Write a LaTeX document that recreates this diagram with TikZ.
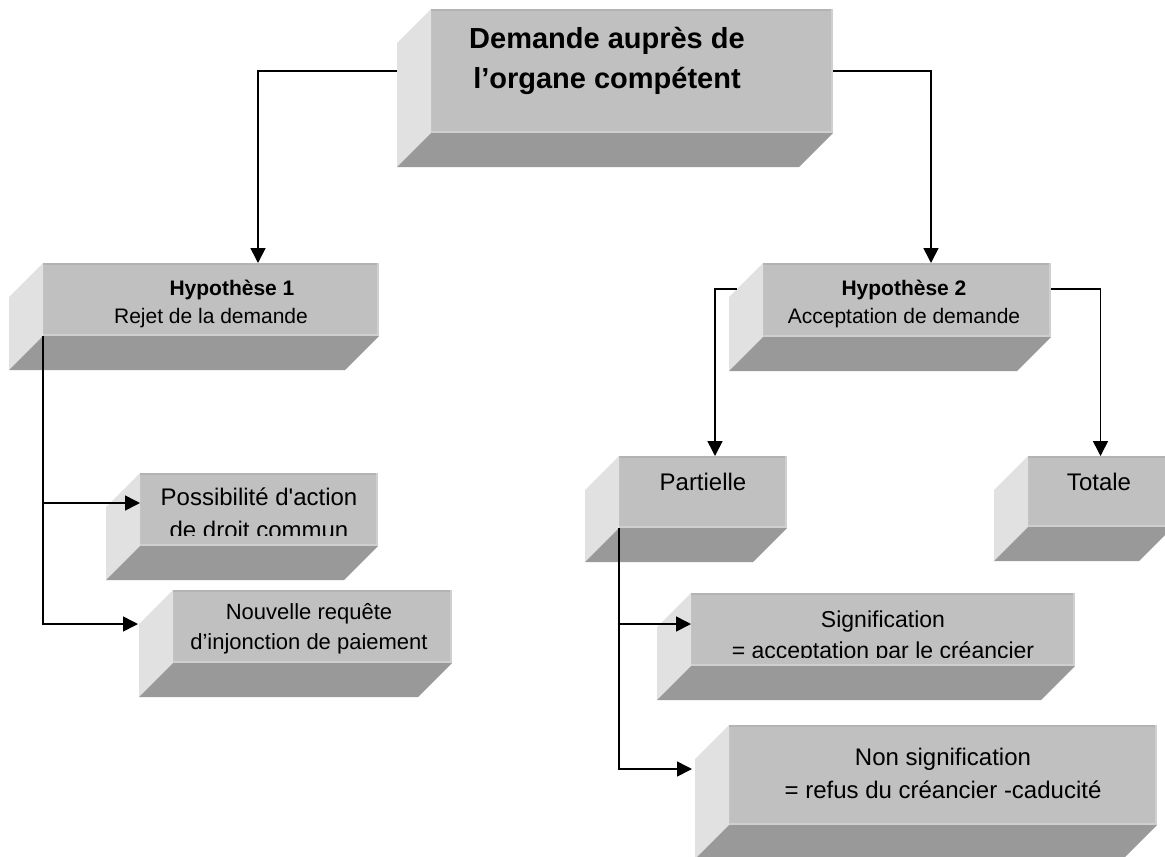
\documentclass[tikz,border=0pt]{standalone}
\usepackage{fontspec}
\newfontfamily\arial{Liberation Sans}
\usepackage{tikz}
\usetikzlibrary{arrows.meta}

\definecolor{frontgray}{HTML}{C0C0C0}
\definecolor{sidegray}{HTML}{E1E1E1}
\definecolor{basegray}{HTML}{999999}
\definecolor{topedge}{HTML}{B3B3B3}
\definecolor{lightedge}{HTML}{CFCFCF}

\begin{document}
\begin{tikzpicture}[
  x=1pt, y=1pt,
  front/.style={fill=frontgray, inner sep=0pt, outer sep=0pt},
  txt/.style={inner sep=0pt, align=center, anchor=north},
  link/.style={line width=1.6pt},
  >={Triangle[length=15pt,width=15pt]}
]
\clip (0,0) rectangle (1165,-857);

% front faces
\node[front, minimum width=402pt, minimum height=124pt] (top) at (632,-71) {};
\node[front, minimum width=336pt, minimum height=73pt] (hypA) at (211,-299.5) {};
\node[front, minimum width=288pt, minimum height=74pt] (hypB) at (907,-300) {};
\node[front, minimum width=238pt, minimum height=73pt] (poss) at (259,-509.5) {};
\node[front, minimum width=279pt, minimum height=73pt] (nouv) at (312.5,-626.5) {};
\node[front, minimum width=168pt, minimum height=72pt] (part) at (703,-492) {};
\node[front, minimum width=145pt, minimum height=71pt] (tot) at (1100.5,-491.5) {};
\node[front, minimum width=384pt, minimum height=73pt] (sig) at (883,-629.5) {};
\node[front, minimum width=428pt, minimum height=100pt] (nonsig) at (943,-775) {};

% side and bottom faces
\foreach \bx in {top,hypA,hypB,poss,nouv,part,tot,sig,nonsig}{
  \fill[sidegray] (\bx.north west) -- ++(-34,-34) -- ([shift={(-34,-34)}]\bx.south west) -- (\bx.south west) -- cycle;
  \fill[basegray] (\bx.south west) -- (\bx.south east) -- ++(-34,-34) -- ([shift={(-34,-34)}]\bx.south west) -- cycle;
  \draw[topedge, line width=2pt] ([yshift=-1pt]\bx.north west) -- ([yshift=-1pt]\bx.north east);
  \draw[lightedge, line width=2pt] ([xshift=-1pt]\bx.north east) -- ([xshift=-1pt]\bx.south east);
  \draw[lightedge, line width=2pt] ([yshift=1pt]\bx.south west) -- ([yshift=1pt]\bx.south east);
}

% texts
\node[txt, font=\arial\bfseries\fontsize{29}{40}\selectfont] (topT) at (607,-27) {Demande auprès de\\l’organe compétent};
\node[txt, font=\arial\fontsize{21}{28}\selectfont] (hypAT) at (211,-279.5) {\hspace*{42pt}\textbf{Hypothèse 1}\\Rejet de la demande};
\node[txt, font=\arial\fontsize{21}{28}\selectfont] (hypBT) at (904,-279.5) {\textbf{Hypothèse 2}\\Acceptation de demande};
\begin{scope}
  \clip (140,-473) rectangle (378,-535);
  \node[txt, font=\arial\fontsize{24}{33}\selectfont] (possT) at (259,-487.5) {Possibilité d'action\\de droit commun};
\end{scope}
\node[txt, font=\arial\fontsize{22}{30}\selectfont] (nouvT) at (309,-603.5) {Nouvelle requête\\d’injonction de paiement};
\node[inner sep=0pt, anchor=base, font=\arial\fontsize{24}{29}\selectfont] (partT) at (703,-490) {Partielle};
\node[inner sep=0pt, anchor=base, font=\arial\fontsize{24}{29}\selectfont] (totT) at (1099,-490) {Totale};
\begin{scope}
  \clip (691,-593) rectangle (1075,-657);
  \node[txt, font=\arial\fontsize{23}{31}\selectfont] (sigT) at (883,-611) {Signification\\= acceptation par le créancier};
\end{scope}
\node[txt, font=\arial\fontsize{24}{33}\selectfont] (nonsigT) at (943,-747.5) {Non signification\\= refus du créancier -caducité};

% from the top box
\draw[->, link] ([xshift=-34pt]top.west) -| ([xshift=47pt]hypA.north);
\draw[->, link] (top.east) -| ([xshift=24pt]hypB.north);

% hypothese 1
\coordinate (possIn) at ([yshift=6.5pt]poss.west);
\coordinate (nouvIn) at ([shift={(-35pt,2.5pt)}]nouv.west);
\draw[->, link] (hypA.south west |- possIn) -- (possIn);
\draw[->, link] (hypA.south west) |- (nouvIn);

% hypothese 2
\draw[->, link] ([shift={(-26pt,11pt)}]hypB.west) -| ([xshift=12pt]part.north);
\draw[->, link] ([yshift=11pt]hypB.east) -| (tot.north);

% partielle
\coordinate (sigIn) at ([yshift=5.5pt]sig.west);
\coordinate (nonIn) at ([shift={(-37pt,6pt)}]nonsig.west);
\draw[->, link] (part.south west |- sigIn) -- (sigIn);
\draw[->, link] (part.south west) |- (nonIn);
\end{tikzpicture}
\end{document}
